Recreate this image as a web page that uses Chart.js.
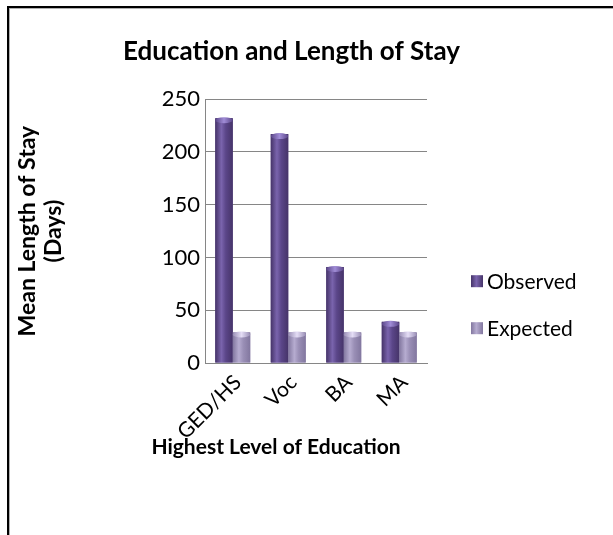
<!DOCTYPE html>
<html>
<head>
<meta charset="utf-8">
<script src="https://cdn.jsdelivr.net/npm/chart.js@4/dist/chart.umd.min.js"></script>
<style>
  html, body { margin: 0; padding: 0; background: #ffffff; }
  #wrap { position: relative; width: 613px; height: 535px; overflow: hidden; }
  #frame {
    position: absolute; left: 7px; top: 6px; width: 640px; height: 600px;
    border-top: 2px solid #000; border-left: 2px solid #000;
    box-shadow: inset 1px 1px 0 #b0b0b0;
  }
  canvas { position: absolute; left: 0; top: 0; }
</style>
</head>
<body>
<div id="wrap">
  <div id="frame"></div>
  <canvas id="c" width="613" height="535"></canvas>
</div>
<script>
// Education level categories and mean length of stay (days)
const categories = ['GED/HS', 'Voc', 'BA', 'MA'];
const observed = [232, 217, 91, 39];
const expected = [29, 29, 29, 29];
const yTicks = [0, 50, 100, 150, 200, 250];
const xAxisTitle = 'Highest Level of Education';

const FONT = 'Lato, "Open Sans", "Liberation Sans", sans-serif';

const palette = {
  observed: { base: '#5b4689', dark: '#463469', light: '#7a64ad', cap: '#a08cd6' },
  expected: { base: '#9a8fb6', dark: '#82779f', light: '#b6acd0', cap: '#e4ddf5' }
};

// Cylinder-like shading drawn over each bar
const barShading = {
  id: 'barShading',
  afterDatasetsDraw(chart) {
    const ctx = chart.ctx;
    chart.data.datasets.forEach((ds, i) => {
      const meta = chart.getDatasetMeta(i);
      const p = i === 0 ? palette.observed : palette.expected;
      meta.data.forEach(bar => {
        const { x, y, base, width } = bar.getProps(['x', 'y', 'base', 'width'], true);
        const l = x - width / 2, r = x + width / 2;
        const g = ctx.createLinearGradient(l, 0, r, 0);
        g.addColorStop(0, p.dark);
        g.addColorStop(0.35, p.light);
        g.addColorStop(0.6, p.base);
        g.addColorStop(1, p.dark);
        ctx.save();
        ctx.fillStyle = g;
        ctx.fillRect(l, y, width, base - y);
        const cg = ctx.createLinearGradient(l, 0, r, 0);
        cg.addColorStop(0, p.base);
        cg.addColorStop(0.5, p.cap);
        cg.addColorStop(1, p.base);
        ctx.fillStyle = cg;
        ctx.beginPath();
        ctx.ellipse(x, y + 2, width / 2, 3, 0, 0, Math.PI * 2);
        ctx.fill();
        ctx.restore();
      });
    });
  }
};

// Legend on the right of the plot and the category axis title
const sideText = {
  id: 'sideText',
  afterDraw(chart) {
    const ctx = chart.ctx;
    const area = chart.chartArea;
    ctx.save();
    const items = Chart.defaults.plugins.legend.labels.generateLabels(chart);
    ctx.font = '21px ' + FONT;
    ctx.textBaseline = 'middle';
    ctx.textAlign = 'left';
    items.forEach((it, k) => {
      const cy = area.top + 182 + k * 47;
      const bx = area.right + 44;
      const g = ctx.createLinearGradient(bx, 0, bx + 12, 0);
      const p = k === 0 ? palette.observed : palette.expected;
      g.addColorStop(0, p.dark);
      g.addColorStop(0.45, p.light);
      g.addColorStop(1, p.dark);
      ctx.fillStyle = g;
      ctx.fillRect(bx, cy - 6, 12, 12);
      ctx.fillStyle = '#000';
      ctx.fillText(it.text, bx + 16, cy + 1);
    });
    ctx.font = 'bold 21px ' + FONT;
    ctx.textAlign = 'center';
    ctx.fillText(xAxisTitle, (area.left + area.right) / 2 - 40, area.bottom + 84);
    ctx.restore();
  }
};

new Chart(document.getElementById('c'), {
  type: 'bar',
  data: {
    labels: categories,
    datasets: [
      { label: 'Observed', data: observed, backgroundColor: palette.observed.base, borderWidth: 0 },
      { label: 'Expected', data: expected, backgroundColor: palette.expected.base, borderWidth: 0 }
    ]
  },
  options: {
    responsive: false,
    animation: false,
    devicePixelRatio: 1,
    layout: { padding: { left: 0, right: 30, top: 0, bottom: 0 } },
    datasets: { bar: { categoryPercentage: 0.63, barPercentage: 1.0 } },
    plugins: {
      title: {
        display: true,
        text: 'Education and Length of Stay',
        color: '#000',
        font: { family: FONT, size: 26, weight: 'bold' },
        padding: { top: 36, bottom: 32 }
      },
      legend: { display: false },
      tooltip: { enabled: false }
    },
    scales: {
      x: {
        grid: { display: false, drawTicks: false },
        border: { display: true, color: '#868686', width: 1 },
        ticks: {
          color: '#000',
          font: { family: FONT, size: 21 },
          minRotation: 45, maxRotation: 45,
          padding: 7,
          labelOffset: 5
        },
        afterFit(scale) { scale.height = 172; }
      },
      y: {
        min: 0, max: 250,
        afterBuildTicks(scale) { scale.ticks = yTicks.map(v => ({ value: v })); },
        grid: { color: '#868686', drawTicks: false },
        border: { display: true, color: '#868686', width: 1 },
        ticks: {
          color: '#000',
          font: { family: FONT, size: 22 },
          padding: 5
        },
        title: {
          display: true,
          text: ['Mean Length of Stay', '(Days)'],
          color: '#000',
          font: { family: FONT, size: 23, weight: 'bold', lineHeight: 1.15 },
          padding: { top: 14, bottom: 0 }
        },
        afterFit(scale) { scale.width = 205; }
      },
      // empty band between the plot and the legend
      legendSpace: {
        type: 'linear',
        position: 'right',
        display: true,
        grid: { display: false, drawTicks: false },
        border: { display: false },
        ticks: { display: false },
        afterFit(scale) { scale.width = 156; }
      }
    }
  },
  plugins: [barShading, sideText]
});
</script>
</body>
</html>
